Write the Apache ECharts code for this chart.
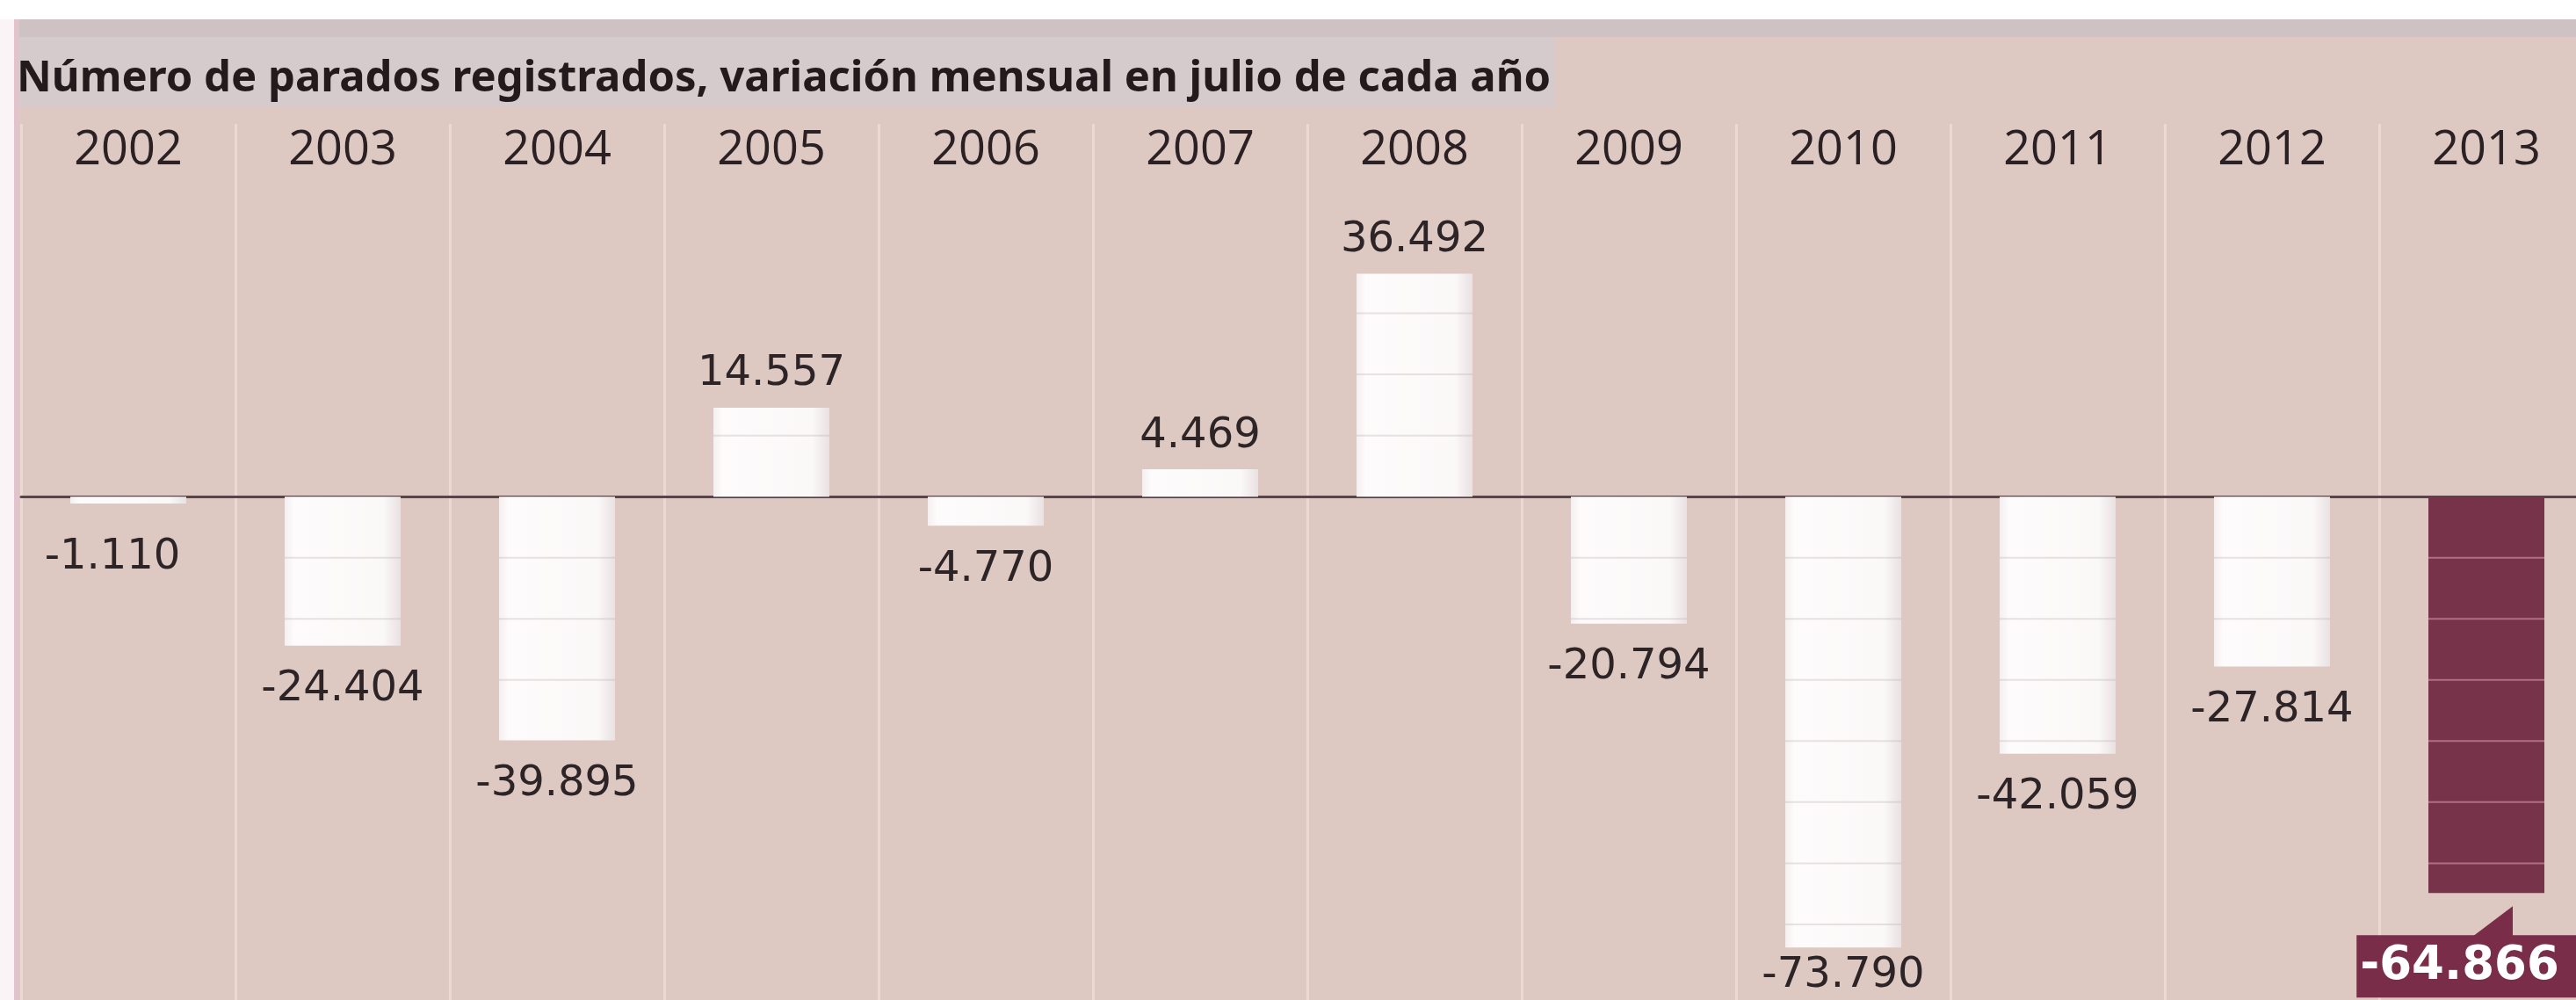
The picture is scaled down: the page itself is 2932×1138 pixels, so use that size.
<!DOCTYPE html>
<html>
<head>
<meta charset="utf-8">
<script src="https://cdn.jsdelivr.net/npm/echarts@6/dist/echarts.min.js"></script>
<style>
html, body { margin: 0; padding: 0; background: #fff; }
#main { width: 2932px; height: 1138px; }
</style>
</head>
<body>
<div id="main"></div>
<script>
// datos: variación mensual de parados registrados en julio
var anios = ['2002', '2003', '2004', '2005', '2006', '2007', '2008', '2009', '2010', '2011', '2012', '2013'];
var variacion = [-1110, -24404, -39895, 14557, -4770, 4469, 36492, -20794, -73790, -42059, -27814, -64866];
var destacado = 11; // 2013
var paso = 10000;

var titulo = 'Número de parados registrados, variación mensual en julio de cada año';
var granate = '#76334a';
var anchoBarra = 132;
var distEtiqueta = 48;

function fmt(v) {
    var s = Math.abs(v).toString().replace(/\B(?=(\d{3})+(?!\d))/g, '.');
    return (v < 0 ? '-' : '') + s;
}

var blanco = {
    type: 'linear', x: 0, y: 0, x2: 1, y2: 0,
    colorStops: [
        {offset: 0, color: '#f5eff0'},
        {offset: 0.08, color: '#fdfbfb'},
        {offset: 0.85, color: '#fbf8f8'},
        {offset: 1, color: '#e9e1e2'}
    ]
};

var datosBarra = variacion.map(function (v, i) {
    if (i === destacado) {
        return {
            value: v,
            itemStyle: {color: granate},
            label: {
                position: 'bottom',
                distance: distEtiqueta,
                offset: [-19, 0],
                color: '#fff',
                fontWeight: 'bold',
                fontSize: 53,
                backgroundColor: '#7a2d48',
                padding: [10, 27, 8, 4]
            }
        };
    }
    var et = {position: v < 0 ? 'bottom' : 'top', distance: v < 0 ? 26 : 14};
    if (i === 0) et.offset = [-18, 12];      // 2002, pegado al borde
    if (i === 8) et.distance = 8;            // 2010, no cabe más abajo
    return {value: v, label: et};
});

var fondo = [
    {type: 'rect', shape: {x: 0, y: 0, width: 2932, height: 22}, style: {fill: '#fff'}, z: 0},
    {type: 'rect', shape: {x: 0, y: 22, width: 2932, height: 20}, style: {fill: '#cec2c4'}, z: 0},
    {type: 'rect', shape: {x: 0, y: 42, width: 1770, height: 80}, style: {fill: '#d5cacc'}, z: 0},
    {type: 'rect', shape: {x: 0, y: 22, width: 16, height: 1116}, style: {fill: '#fbf4f6'}, z: 0},
    {type: 'rect', shape: {x: 16, y: 22, width: 6, height: 1116}, style: {fill: '#e2c3cc'}, z: 0}
];

var chart = echarts.init(document.getElementById('main'));
chart.setOption({
    backgroundColor: '#ddc8c2',
    animation: false,
    title: {
        text: titulo,
        left: 14,
        top: 61,
        textStyle: {
            fontFamily: '"Noto Sans"',
            fontWeight: 'bold',
            fontSize: 49,
            color: '#221a1c'
        }
    },
    graphic: fondo,
    grid: {left: 24, top: 141, width: 2928, height: 1050, outerBoundsMode: 'none'},
    xAxis: [{
        type: 'category',
        data: anios,
        position: 'top',
        axisLine: {show: false, onZero: false},
        axisTick: {show: false},
        axisLabel: {
            inside: true,
            margin: 4,
            fontFamily: '"Open Sans"',
            fontSize: 54,
            color: '#2b2124'
        },
        splitLine: {show: true, interval: 0, lineStyle: {color: '#ead9d5', width: 3}}
    }, {
        type: 'category',
        data: anios,
        position: 'bottom',
        axisLine: {onZero: true, lineStyle: {color: '#574548', width: 3}},
        axisTick: {show: false},
        axisLabel: {show: false},
        splitLine: {show: false}
    }],
    yAxis: {
        type: 'value',
        min: -90000,
        max: 61000,
        show: false
    },
    series: [{
        type: 'bar',
        xAxisIndex: 0,
        barWidth: anchoBarra,
        data: datosBarra,
        itemStyle: {color: blanco},
        label: {
            show: true,
            formatter: function (p) { return fmt(p.value); },
            fontFamily: '"DejaVu Sans"',
            fontSize: 48,
            color: '#2c2426'
        },
        z: 2
    }, {
        // líneas de la cuadrícula que se ven sobre las barras
        type: 'custom',
        xAxisIndex: 0,
        silent: true,
        z: 3,
        data: variacion.map(function (v, i) { return [i, v]; }),
        renderItem: function (params, api) {
            var i = api.value(0), v = api.value(1);
            var hijos = [];
            var signo = v < 0 ? -1 : 1;
            for (var t = paso; t < Math.abs(v); t += paso) {
                var p = api.coord([i, signo * t]);
                hijos.push({
                    type: 'line',
                    shape: {x1: p[0] - anchoBarra / 2, y1: p[1], x2: p[0] + anchoBarra / 2, y2: p[1]},
                    style: {
                        stroke: i === destacado ? '#b46d86' : 'rgba(190,178,180,0.35)',
                        lineWidth: 2
                    }
                });
            }
            return {type: 'group', children: hijos};
        }
    }]
});

// flecha de la etiqueta destacada
var pb = chart.convertToPixel({seriesIndex: 0}, [destacado, variacion[destacado]]);
var yCaja = pb[1] + distEtiqueta;
chart.setOption({
    graphic: fondo.concat([{
        type: 'polygon',
        shape: {points: [[pb[0] - 15, yCaja + 1], [pb[0] + 30, yCaja + 1], [pb[0] + 30, yCaja - 33]]},
        style: {fill: '#7a2d48'},
        z: 10
    }])
});
</script>
</body>
</html>
